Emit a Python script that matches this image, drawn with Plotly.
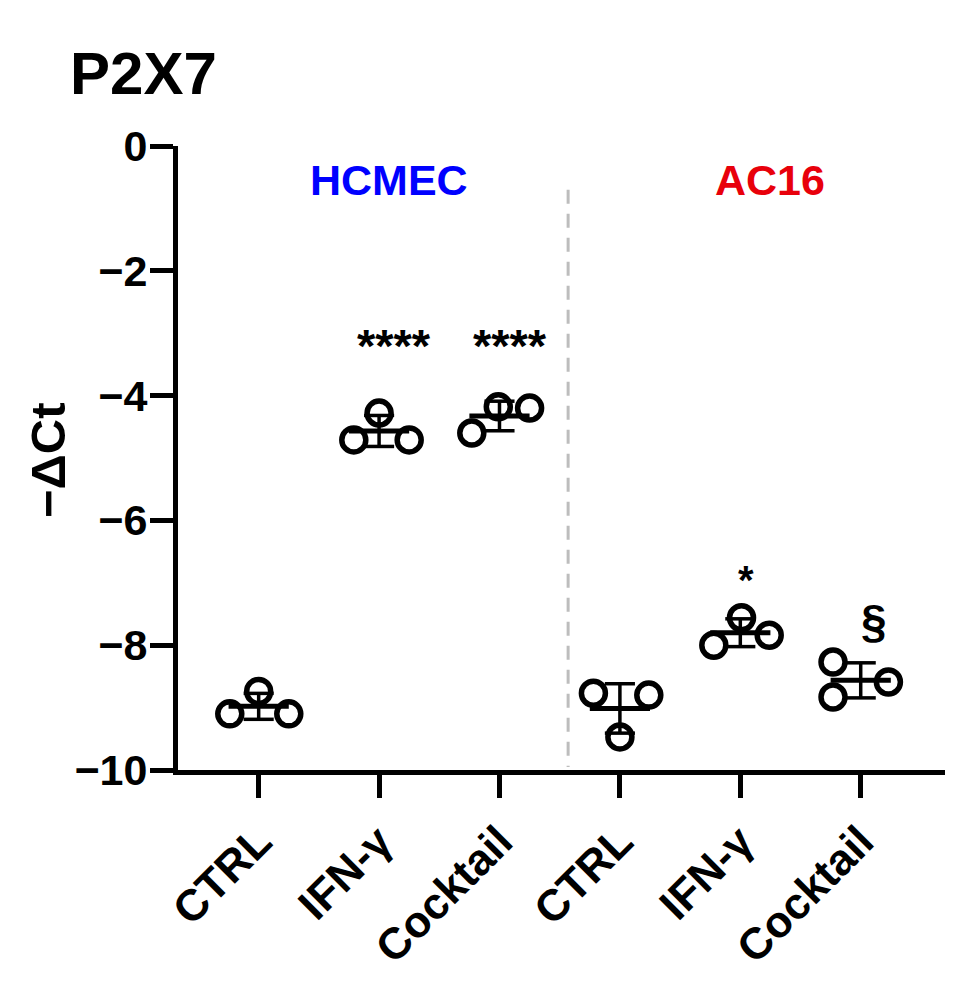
import numpy as np
import plotly.graph_objects as go

# ---------------- data ----------------
categories = ["CTRL", "IFN-γ", "Cocktail", "CTRL", "IFN-γ", "Cocktail"]
cell_lines = ["HCMEC", "AC16"]
# -ΔCt replicate values per group (3 replicates each)
hcmec_ctrl = [-9.10, -8.74, -9.10]
hcmec_ifng = [-4.71, -4.28, -4.71]
hcmec_cocktail = [-4.60, -4.18, -4.20]
ac16_ctrl = [-8.77, -9.47, -8.80]
ac16_ifng = [-8.00, -7.56, -7.84]
ac16_cocktail = [-8.27, -8.83, -8.59]
groups = [hcmec_ctrl, hcmec_ifng, hcmec_cocktail, ac16_ctrl, ac16_ifng, ac16_cocktail]
significance = ["", "****", "****", "", "*", "§"]
y_ticks = [0, -2, -4, -6, -8, -10]
y_tick_labels = ["0", "−2", "−4", "−6", "−8", "−10"]

# ---------------- layout constants ----------------
jitter = [
    [-0.24, 0.0, 0.25],
    [-0.21, 0.0, 0.25],
    [-0.23, -0.01, 0.25],
    [-0.22, 0.0, 0.24],
    [-0.22, 0.01, 0.24],
    [-0.23, -0.23, 0.23],
]
sig_y = [None, -3.2, -3.2, None, -6.95, -7.62]
sig_dx = [0, 0.12, 0.09, 0, 0.05, 0.11]
sig_size = [0, 47, 47, 0, 40, 46]
FONT = "Liberation Sans, Arial, Helvetica, sans-serif"

fig = go.Figure()

for gi, vals in enumerate(groups):
    xs = [gi + j for j in jitter[gi]]
    fig.add_trace(go.Scatter(
        x=xs, y=vals, mode="markers",
        marker=dict(symbol="circle-open", size=24, color="black",
                    line=dict(width=5.5, color="black")),
        showlegend=False, hoverinfo="skip", cliponaxis=False,
    ))
    m = float(np.mean(vals))
    sd = float(np.std(vals, ddof=1))
    # mean line
    fig.add_trace(go.Scatter(
        x=[gi - 0.25, gi + 0.25], y=[m, m], mode="lines",
        line=dict(color="black", width=5), showlegend=False,
        hoverinfo="skip", cliponaxis=False,
    ))
    # SD whiskers and caps
    fig.add_trace(go.Scatter(
        x=[gi, gi, None, gi - 0.125, gi + 0.125, None, gi - 0.125, gi + 0.125],
        y=[m - sd, m + sd, None, m + sd, m + sd, None, m - sd, m - sd],
        mode="lines", line=dict(color="black", width=3.5),
        showlegend=False, hoverinfo="skip", cliponaxis=False,
    ))

# significance marks
for gi, s in enumerate(significance):
    if s:
        fig.add_annotation(x=gi + sig_dx[gi], y=sig_y[gi], text=f"<b>{s}</b>",
                           showarrow=False, xanchor="center", yanchor="middle",
                           font=dict(family=FONT, size=sig_size[gi], color="black"))

# dashed separator
fig.add_shape(type="line", x0=2.57, x1=2.57, y0=-0.70, y1=-9.95,
              xref="x", yref="y",
              line=dict(color="#bdbdbd", width=3, dash="14px,10px"))

# cell line labels
fig.add_annotation(x=1.08, y=-0.55, text="<b>HCMEC</b>", showarrow=False,
                   font=dict(family=FONT, size=43, color="#0000ff"))
fig.add_annotation(x=4.25, y=-0.55, text="<b>AC16</b>", showarrow=False,
                   font=dict(family=FONT, size=43, color="#e8000b"))

# page has an 8px body margin; compensate so the plot area lands at
# x 178..945, y 146..770 in the 967x987 window
OFF = 8
W, H = 967 - OFF, 987 - OFF
L, R, T, B = 178 - OFF, 22, 146 - OFF, 217
pw, ph = W - L - R, H - T - B


def px_x(p):
    return (p - OFF - L) / pw


def px_y(p):
    return (H - B - (p - OFF)) / ph


# title
fig.add_annotation(x=px_x(68), y=px_y(74), xref="paper", yref="paper",
                   text="<b>P2X7</b>", showarrow=False, xanchor="left",
                   yanchor="middle",
                   font=dict(family=FONT, size=60, color="black"))
# y-axis title
fig.add_annotation(x=px_x(48), y=px_y(460), xref="paper", yref="paper",
                   text="<b>−ΔCt</b>", showarrow=False, textangle=-90,
                   xanchor="center", yanchor="middle",
                   font=dict(family=FONT, size=49, color="black"))

fig.update_layout(
    width=W, height=H,
    margin=dict(l=L, r=R, t=T, b=B),
    paper_bgcolor="white", plot_bgcolor="white",
    font=dict(family=FONT, color="black"),
    xaxis=dict(
        range=[-0.67, 5.70], tickmode="array",
        tickvals=list(range(len(categories))),
        ticktext=[f"<b>{c}</b>" for c in categories],
        tickangle=-45, tickfont=dict(family=FONT, size=44, color="black"),
        ticks="outside", ticklen=23, tickwidth=5, tickcolor="black",
        showline=True, linewidth=5, linecolor="black",
        showgrid=False, zeroline=False,
    ),
    yaxis=dict(
        range=[-10, 0], tickmode="array", tickvals=y_ticks,
        ticktext=[f"<b>{t}</b>" for t in y_tick_labels],
        tickfont=dict(family=FONT, size=43, color="black"),
        ticks="outside", ticklen=23, tickwidth=5, tickcolor="black",
        ticklabelstandoff=-6,
        showline=True, linewidth=5, linecolor="black",
        showgrid=False, zeroline=False,
    ),
)

fig.write_html("out.html")
